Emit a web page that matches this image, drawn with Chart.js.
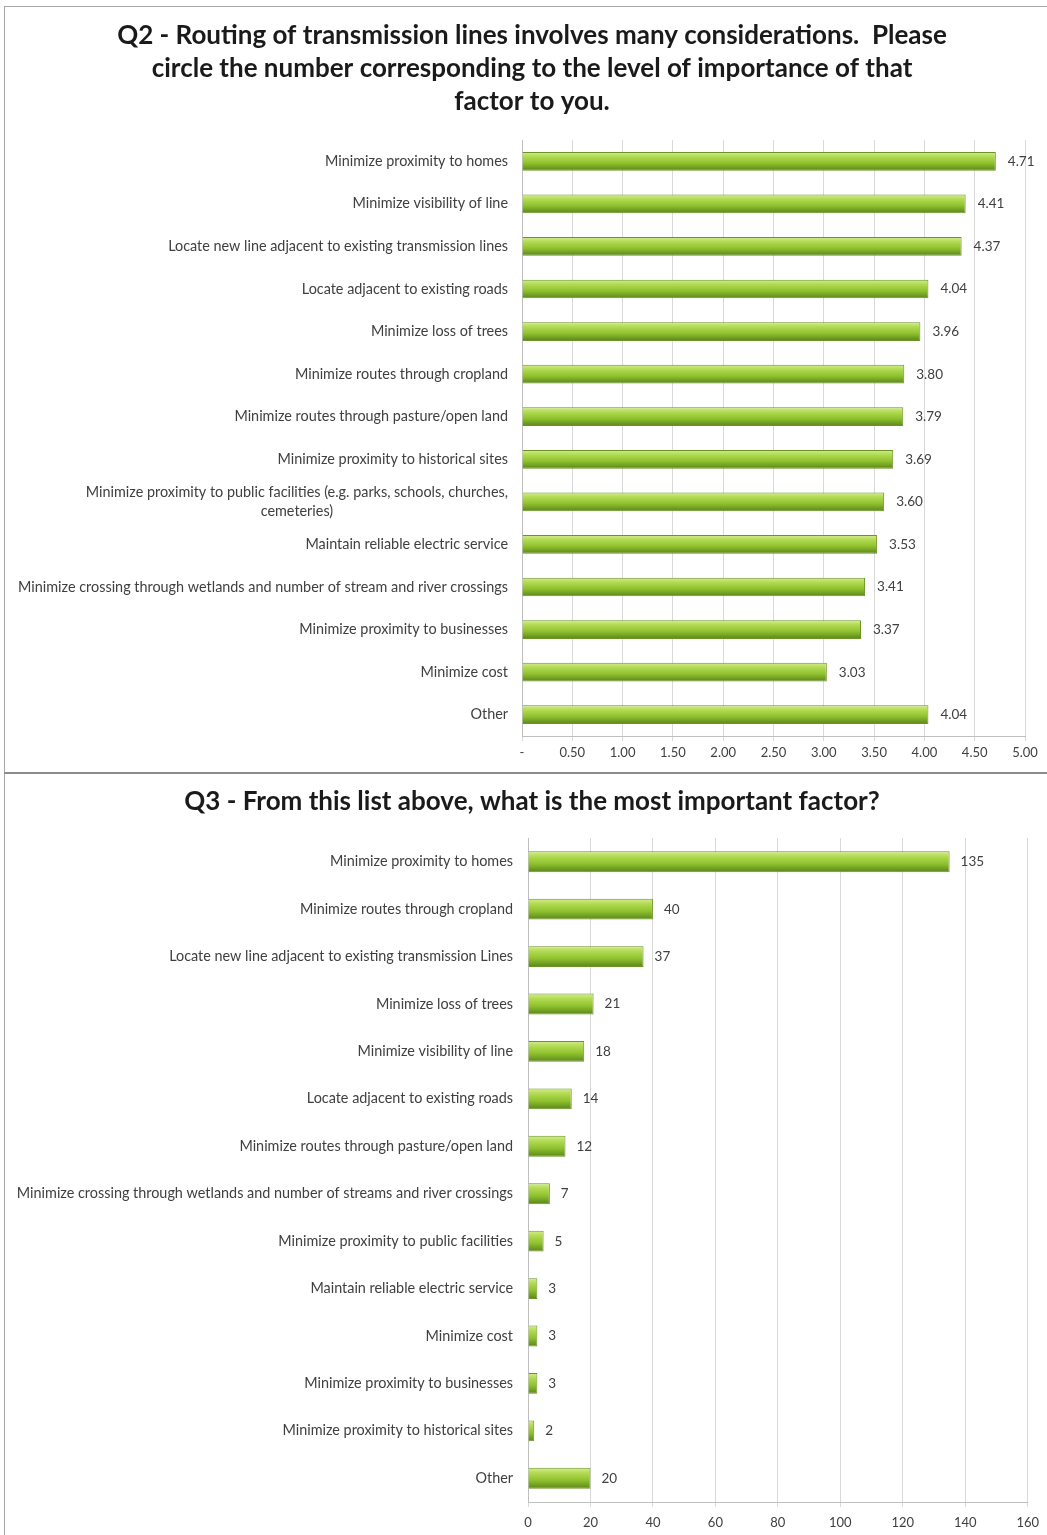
<!DOCTYPE html>
<html>
<head>
<meta charset="utf-8">
<script src="https://cdn.jsdelivr.net/npm/chart.js@4.4.1/dist/chart.umd.min.js"></script>
<style>
  html, body { margin: 0; padding: 0; background: #fff; }
  body { width: 1047px; height: 1535px; position: relative; overflow: hidden; }
  .panel { position: absolute; left: 0; width: 1047px; }
  #panelQ2 { top: 0; height: 772px; }
  #panelQ3 { top: 775px; height: 760px; }
  .rule { position: absolute; background: #a6a6a6; }
  #ruleLeft { left: 4px; top: 6px; width: 1px; height: 1529px; }
  #ruleTop { left: 4px; top: 6px; width: 1043px; height: 1px; }
  #ruleMid { left: 4px; top: 772px; width: 1043px; height: 2px; background: #8c8c8c; }
  canvas { display: block; }
</style>
</head>
<body>
<div class="rule" id="ruleLeft"></div>
<div class="rule" id="ruleTop"></div>
<div class="rule" id="ruleMid"></div>
<div class="panel" id="panelQ2"><canvas id="q2"></canvas></div>
<div class="panel" id="panelQ3"><canvas id="q3"></canvas></div>

<script>
// ---- Q2: average importance rating per routing factor ----
const q2Title = [
  'Q2 - Routing of transmission lines involves many considerations.  Please',
  'circle the number corresponding to the level of importance of that',
  'factor to you.'
];
const q2Categories = [
  'Minimize proximity to homes',
  'Minimize visibility of line',
  'Locate new line adjacent to existing transmission lines',
  'Locate adjacent to existing roads',
  'Minimize loss of trees',
  'Minimize routes through cropland',
  'Minimize routes through pasture/open land',
  'Minimize proximity to historical sites',
  ['Minimize proximity to public facilities (e.g. parks, schools, churches,', 'cemeteries)'],
  'Maintain reliable electric service',
  'Minimize crossing through wetlands and number of stream and river crossings',
  'Minimize proximity to businesses',
  'Minimize cost',
  'Other'
];
const q2Values = [4.71, 4.41, 4.37, 4.04, 3.96, 3.80, 3.79, 3.69, 3.60, 3.53, 3.41, 3.37, 3.03, 4.04];
const q2TickLabels = ['-', '0.50', '1.00', '1.50', '2.00', '2.50', '3.00', '3.50', '4.00', '4.50', '5.00'];

// ---- Q3: count of respondents naming each factor as most important ----
const q3Title = 'Q3 - From this list above, what is the most important factor?';
const q3Categories = [
  'Minimize proximity to homes',
  'Minimize routes through cropland',
  'Locate new line adjacent to existing transmission Lines',
  'Minimize loss of trees',
  'Minimize visibility of line',
  'Locate adjacent to existing roads',
  'Minimize routes through pasture/open land',
  'Minimize crossing through wetlands and number of streams and river crossings',
  'Minimize proximity to public facilities',
  'Maintain reliable electric service',
  'Minimize cost',
  'Minimize proximity to businesses',
  'Minimize proximity to historical sites',
  'Other'
];
const q3Values = [135, 40, 37, 21, 18, 14, 12, 7, 5, 3, 3, 3, 2, 20];
const q3TickLabels = ['0', '20', '40', '60', '80', '100', '120', '140', '160'];

const FONT = 'Lato, "Liberation Sans", sans-serif';
const BAR_SHARE = 0.44;

Chart.defaults.font.family = FONT;
Chart.defaults.color = '#404040';

// Glossy green fill: light on top, olive at the bottom of each bar.
function barFill(ctx) {
  const chart = ctx.chart;
  const y = chart.scales.y;
  if (!chart.chartArea || !y || ctx.dataIndex === undefined) return '#9bc83a';
  const band = Math.abs(y.getPixelForValue(1) - y.getPixelForValue(0));
  const half = band * BAR_SHARE / 2;
  const cy = y.getPixelForValue(ctx.dataIndex);
  const g = chart.ctx.createLinearGradient(0, cy - half, 0, cy + half);
  g.addColorStop(0, '#d3ee90');
  g.addColorStop(0.25, '#b2da52');
  g.addColorStop(0.6, '#8fc12e');
  g.addColorStop(1, '#5a841a');
  return g;
}

// Value printed just past the end of each bar.
function makeValueLabels(format, offset) {
  return {
    id: 'valueLabels',
    afterDatasetsDraw(chart) {
      const c = chart.ctx;
      const data = chart.data.datasets[0].data;
      c.save();
      c.font = '13.5px ' + FONT;
      c.fillStyle = '#404040';
      c.textAlign = 'left';
      c.textBaseline = 'middle';
      chart.getDatasetMeta(0).data.forEach((bar, i) => {
        c.fillText(format(data[i]), bar.x + offset, bar.y);
      });
      c.restore();
    }
  };
}

// Category names: right-aligned blocks, wrapped lines centred inside a block.
function makeCategoryLabels(gap, lineHeight) {
  return {
    id: 'categoryLabels',
    afterDraw(chart) {
      const c = chart.ctx;
      const y = chart.scales.y;
      const right = chart.chartArea.left - gap;
      c.save();
      c.font = '14.4px ' + FONT;
      c.fillStyle = '#404040';
      c.textAlign = 'center';
      c.textBaseline = 'middle';
      chart.data.labels.forEach((label, i) => {
        const lines = Array.isArray(label) ? label : [label];
        const w = Math.max(...lines.map(l => c.measureText(l).width));
        const cx = right - w / 2;
        const cy = y.getPixelForTick(i);
        const top = cy - (lines.length - 1) * lineHeight / 2;
        lines.forEach((l, k) => c.fillText(l, cx, top + k * lineHeight));
      });
      c.restore();
    }
  };
}

function buildChart(canvasId, cfg) {
  return new Chart(document.getElementById(canvasId), {
    type: 'bar',
    data: {
      labels: cfg.categories,
      datasets: [{
        data: cfg.values,
        backgroundColor: barFill,
        borderColor: '#6a9424',
        borderWidth: 1,
        borderSkipped: 'left',
        categoryPercentage: 1,
        barPercentage: BAR_SHARE
      }]
    },
    options: {
      indexAxis: 'y',
      responsive: true,
      maintainAspectRatio: false,
      animation: false,
      layout: { padding: cfg.padding },
      plugins: {
        legend: { display: false },
        tooltip: { enabled: false },
        title: {
          display: true,
          text: cfg.title,
          color: '#1a1a1a',
          font: { family: FONT, size: 26, weight: 'bold', lineHeight: 33 / 26 },
          padding: cfg.titlePadding
        }
      },
      scales: {
        x: {
          min: 0,
          max: cfg.max,
          afterFit(scale) { scale.height = cfg.xHeight; },
          ticks: {
            stepSize: cfg.step,
            autoSkip: false,
            maxRotation: 0,
            padding: cfg.tickPad,
            color: '#404040',
            font: { size: 13 },
            callback: (v, i) => cfg.tickLabels[i]
          },
          grid: { color: '#d9d9d9', lineWidth: 1, tickLength: 5 },
          border: { display: true, color: '#bfbfbf' }
        },
        y: {
          type: 'category',
          offset: true,
          afterFit(scale) { scale.width = cfg.yWidth; },
          ticks: { display: false },
          grid: { display: false },
          border: { display: true, color: '#bfbfbf' }
        }
      }
    },
    plugins: [makeValueLabels(cfg.format, cfg.valueOffset), makeCategoryLabels(cfg.labelGap, 19)]
  });
}

buildChart('q2', {
  categories: q2Categories,
  values: q2Values,
  tickLabels: q2TickLabels,
  title: q2Title,
  max: 5,
  step: 0.5,
  format: v => v.toFixed(2),
  padding: { left: 39, right: 22, top: 0, bottom: 0 },
  titlePadding: { top: 19.5, bottom: 21.5 },
  yWidth: 483,
  xHeight: 36,
  tickPad: 4,
  labelGap: 14,
  valueOffset: 12
});

buildChart('q3', {
  categories: q3Categories,
  values: q3Values,
  tickLabels: q3TickLabels,
  title: q3Title,
  max: 160,
  step: 20,
  format: v => String(v),
  padding: { left: 33, right: 16, top: 0, bottom: 0 },
  titlePadding: { top: 10.5, bottom: 19.5 },
  yWidth: 495,
  xHeight: 33,
  tickPad: 8,
  labelGap: 15,
  valueOffset: 11
});
</script>
</body>
</html>
